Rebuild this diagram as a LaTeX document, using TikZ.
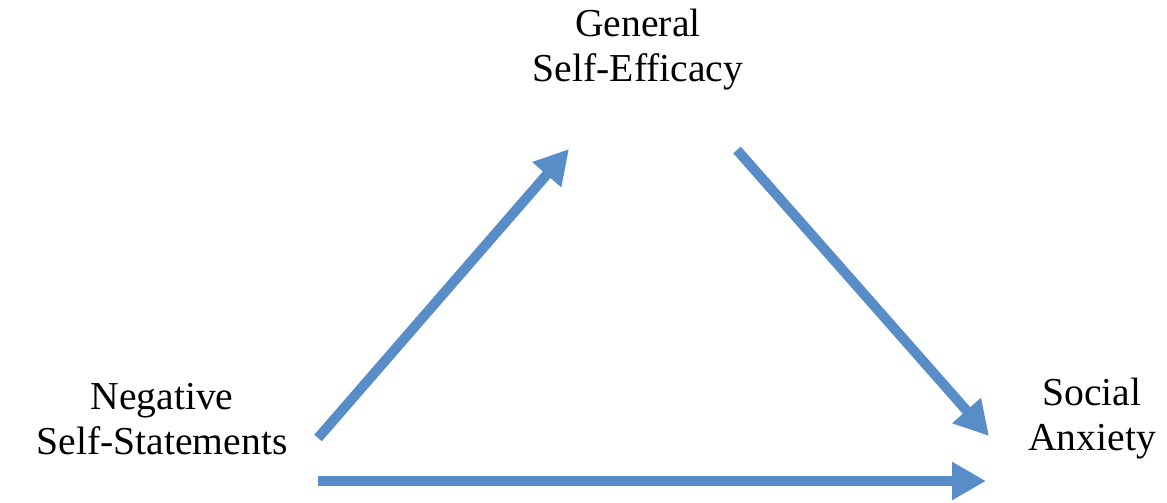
\documentclass[tikz,border=0pt]{standalone}
\usepackage{fontspec}
\setmainfont{Liberation Serif}
\usetikzlibrary{arrows.meta}
\definecolor{arrowblue}{RGB}{88,141,200}
\tikzstyle{construct}=[
	align=center,
	inner sep=0pt,
	font=\fontsize{19.8}{22.5}\selectfont
]
\tikzstyle{path}=[
	-{Triangle[length=17pt,width=18pt]},
	draw=arrowblue,
	line width=5pt
]

\begin{document}
\begin{tikzpicture}[x=0.5pt,y=-0.5pt]
\useasboundingbox (0,0) rectangle (1167,503);

\node[construct] (gse) at (638,50) {General\\Self-Efficacy};
\node[construct] (nss) at (162,419) {Negative\\Self-Statements};
\node[construct] (soc) at (1092,419) {Social\\Anxiety};

\coordinate (a1) at (318,438);
\coordinate (a2) at (569,149);
\coordinate (b1) at (737,150);
\coordinate (b2) at (989,436);
\coordinate (c1) at (318,481);
\coordinate (c2) at (986,481);

\draw[path] (a1) to (a2);
\draw[path] (b1) to (b2);
\draw[path] (c1) to (c2);

\end{tikzpicture}
\end{document}
